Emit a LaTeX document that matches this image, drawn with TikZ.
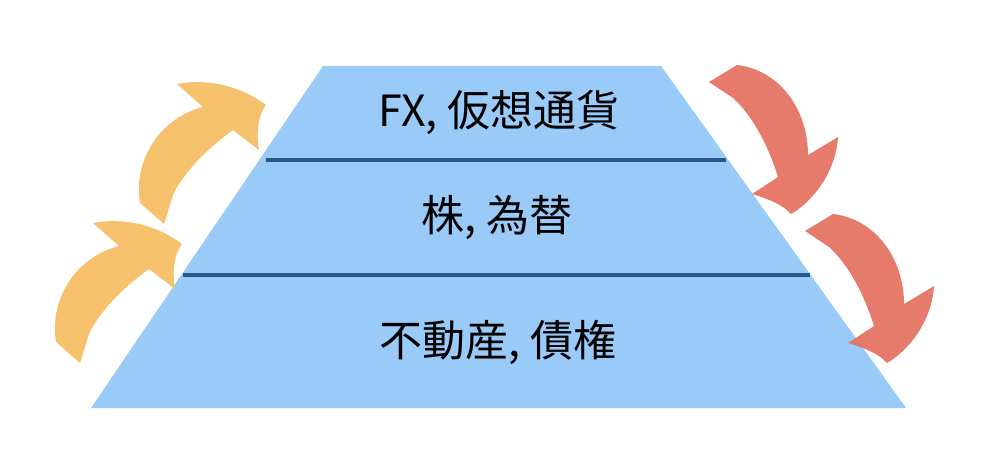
\documentclass[tikz,border=0pt]{standalone}
\usepackage{fontspec}
\setmainfont{Noto Sans CJK JP}
\definecolor{pyramidblue}{HTML}{99CAF8}
\definecolor{dividerblue}{HTML}{2A5A8A}
\definecolor{risecolor}{HTML}{F5C16C}
\definecolor{fallcolor}{HTML}{E4705F}
\tikzstyle{layer} = [font=\fontsize{43}{50}\selectfont, text=black, inner sep=0pt]
\tikzstyle{divider} = [draw=dividerblue, line width=4pt]
\tikzstyle{risearrow} = [fill=risecolor]
\tikzstyle{fallarrow} = [fill=fallcolor, fill opacity=0.92]

\begin{document}
\begin{tikzpicture}[x=1pt,y=-1pt]
      \useasboundingbox (0,0) rectangle (990,462);

      %% pyramid
      \coordinate (tl) at (323,66);
      \coordinate (tr) at (661,66);
      \coordinate (br) at (906,408);
      \coordinate (bl) at (91,408);
      \fill[pyramidblue] (tl) -- (tr) -- (br) -- (bl) -- cycle;

      %% dividers
      \foreach \name/\xa/\xb/\y in {upper/266/726/160, lower/183/810/275}
      {
        \coordinate (\name w) at (\xa,\y);
        \coordinate (\name e) at (\xb,\y);
        \draw[divider] (\name w) -- (\name e);
      }

      %% layer labels
      \foreach \nodename/\x/\y/\label in {top/499/112/{FX, 仮想通貨},
        mid/497/218/{株, 為替}, bottom/498/342/{不動産, 債権}}
      {
        \node[layer] (\nodename) at (\x,\y) {\label};
      }

      %% rising arrows (left)
      \foreach \dx/\dy in {0/0, -84/139}
      {
        \path[risearrow, shift={(\dx,\dy)}]
          (140,203) .. controls (133,160) and (160,118) .. (203,107)
          -- (177,84) .. controls (210,78) and (242,87) .. (266,105)
          .. controls (256,118) and (257,140) .. (259,150)
          -- (233,130) .. controls (205,150) and (182,175) .. (173,195)
          -- (164,224) -- cycle;
      }

      %% falling arrows (right)
      \foreach \dx/\dy in {0/0, 96/149}
      {
        \path[fallarrow, shift={(\dx,\dy)}]
          (737,65) .. controls (780,70) and (808,110) .. (808,155)
          -- (838,137) .. controls (836,170) and (815,200) .. (791,214)
          .. controls (782,204) and (768,199) .. (752,194)
          -- (778,177) .. controls (768,145) and (752,115) .. (733,98)
          -- (709,82) -- cycle;
      }
    \end{tikzpicture}
\end{document}
